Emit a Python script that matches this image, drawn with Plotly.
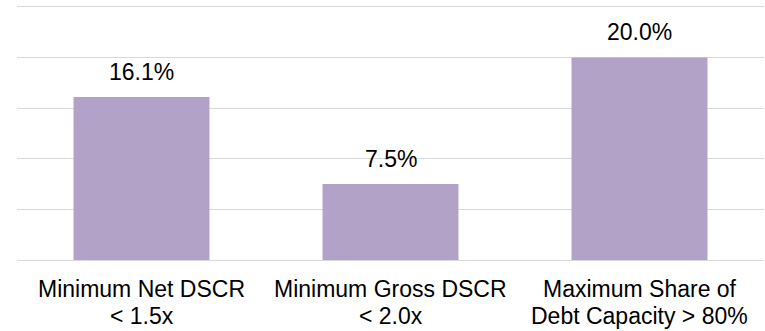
import plotly.graph_objects as go

# Covenant threshold breaches, share of projects
categories = [
    "Minimum Net DSCR<br>< 1.5x",
    "Minimum Gross DSCR<br>< 2.0x",
    "Maximum Share of<br>Debt Capacity > 80%",
]
shares = [16.1, 7.5, 20.0]
y_ticks = [0, 5, 10, 15, 20, 25]

BAR_COLOR = "#B3A2C7"
GRID_COLOR = "#D9D9D9"
FONT = "Liberation Sans, Arial, sans-serif"
FONT_SIZE = 23
LINE_PITCH = 27

fig = go.Figure(
    go.Bar(
        x=categories,
        y=shares,
        marker=dict(color=BAR_COLOR, line=dict(width=0)),
        hoverinfo="skip",
    )
)

# Value labels above each bar
for cat, val in zip(categories, shares):
    fig.add_annotation(
        x=cat, y=val, text=f"{val:.1f}%",
        showarrow=False, yanchor="bottom", yshift=10,
        font=dict(family=FONT, size=FONT_SIZE, color="#000000"),
    )

# Category labels under the axis, one annotation per line for tight spacing
for cat in categories:
    for i, line in enumerate(cat.split("<br>")):
        fig.add_annotation(
            x=cat, y=0, text=line,
            showarrow=False, yanchor="middle", yshift=-29 - i * LINE_PITCH,
            font=dict(family=FONT, size=FONT_SIZE, color="#000000"),
        )

fig.update_layout(
    width=765, height=331,
    margin=dict(l=17, r=1, t=4, b=71),
    paper_bgcolor="white", plot_bgcolor="white",
    bargap=0.454,
    showlegend=False,
    font=dict(family=FONT, size=FONT_SIZE, color="#000000"),
)
fig.update_xaxes(
    showgrid=False, ticks="", showline=False, showticklabels=False,
)
fig.update_yaxes(
    range=[0, 25.27], tickvals=y_ticks, showticklabels=False,
    showgrid=True, gridcolor=GRID_COLOR, gridwidth=1.3,
    zeroline=True, zerolinecolor=GRID_COLOR, zerolinewidth=1.3,
    showline=False,
)

fig.write_html("out.html")
